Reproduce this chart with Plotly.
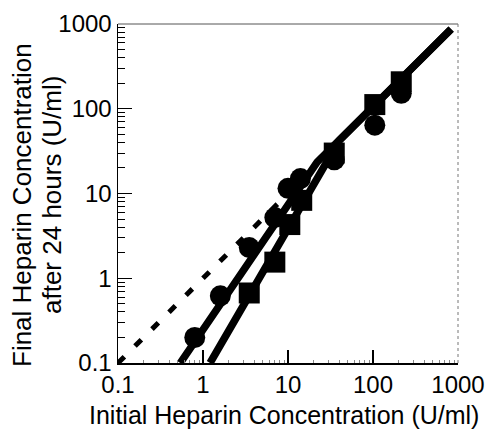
import plotly.graph_objects as go

# ---- data ----
circle_x = [0.8, 1.6, 3.5, 7.0, 10.0, 14.0, 35.0, 105.0, 215.0]
circle_y = [0.2, 0.62, 2.3, 5.2, 11.5, 15.0, 25.0, 64.0, 152.0]
square_x = [3.5, 7.0, 10.5, 14.5, 35.0, 105.0, 215.0]
square_y = [0.67, 1.55, 4.3, 8.3, 30.0, 112.0, 208.0]

circle_fit_x = [0.54, 22.0, 830.0]
circle_fit_y = [0.1, 23.5, 870.0]
square_fit_x = [1.21, 40.0, 830.0]
square_fit_y = [0.1, 42.0, 870.0]
identity_x = [0.1, 12.0]
identity_y = [0.1, 12.0]

tick_vals = [0.1, 1, 10, 100, 1000]
tick_text = ["0.1", "1", "10", "100", "1000"]

x_title = "Initial Heparin Concentration (U/ml)"
y_title_1 = "Final Heparin Concentration"
y_title_2 = "after 24 hours (U/ml)"

# ---- layout geometry ----
W, H = 489, 432
L, R, T, B = 118, 31, 24, 69
pw, ph = W - L - R, H - T - B


def px_to_paper(x, y):
    return (x - L) / pw, (H - B - y) / ph


FONT = "Liberation Sans, Arial, sans-serif"

fig = go.Figure()

fig.add_trace(go.Scatter(x=identity_x, y=identity_y, mode="lines",
                         line=dict(color="black", width=5, dash="9px,15px"),
                         hoverinfo="skip", showlegend=False))
fig.add_trace(go.Scatter(x=circle_fit_x, y=circle_fit_y, mode="lines",
                         line=dict(color="black", width=7.5),
                         hoverinfo="skip", showlegend=False))
fig.add_trace(go.Scatter(x=square_fit_x, y=square_fit_y, mode="lines",
                         line=dict(color="black", width=7.5),
                         hoverinfo="skip", showlegend=False))
fig.add_trace(go.Scatter(x=circle_x, y=circle_y, mode="markers",
                         marker=dict(symbol="circle", size=21, color="black"),
                         showlegend=False))
fig.add_trace(go.Scatter(x=square_x, y=square_y, mode="markers",
                         marker=dict(symbol="square", size=21, color="black"),
                         showlegend=False))

axis_common = dict(
    type="log", range=[-1, 3], tickvals=tick_vals, ticktext=tick_text,
    showgrid=False, zeroline=False, showline=True, linecolor="black",
    linewidth=1.5, ticks="inside", tickcolor="black", tickwidth=1.2,
    tickfont=dict(family=FONT, size=24, color="black"),
)

fig.update_xaxes(**axis_common, ticklen=13,
                 minor=dict(ticks="inside", ticklen=3, tickcolor="#888888",
                            tickwidth=1, dtick="D1", showgrid=False))
fig.update_yaxes(**axis_common, ticklen=14,
                 minor=dict(ticks="inside", ticklen=7, tickcolor="black",
                            tickwidth=1, dtick="D1", showgrid=False))

# top (solid gray) and right (dotted gray) frame lines
fig.add_shape(type="line", xref="paper", yref="paper", x0=0, x1=1, y0=1, y1=1,
              line=dict(color="#555555", width=1))
fig.add_shape(type="line", xref="paper", yref="paper", x0=1, x1=1, y0=0, y1=1,
              line=dict(color="#777777", width=1, dash="dot"))

ax, ay = px_to_paper(284, 415)
fig.add_annotation(text=x_title, x=ax, y=ay, xref="paper", yref="paper",
                   xanchor="center", yanchor="middle", showarrow=False,
                   font=dict(family=FONT, size=25, color="black"))
a1x, a1y = px_to_paper(22, 205)
fig.add_annotation(text=y_title_1, x=a1x, y=a1y, xref="paper", yref="paper",
                   xanchor="center", yanchor="middle", showarrow=False,
                   textangle=-90, font=dict(family=FONT, size=26, color="black"))
a2x, a2y = px_to_paper(52, 195)
fig.add_annotation(text=y_title_2, x=a2x, y=a2y, xref="paper", yref="paper",
                   xanchor="center", yanchor="middle", showarrow=False,
                   textangle=-90, font=dict(family=FONT, size=26, color="black"))

fig.update_layout(
    width=W, height=H, margin=dict(l=L, r=R, t=T, b=B, autoexpand=False),
    paper_bgcolor="white", plot_bgcolor="white",
    font=dict(family=FONT, color="black"),
)

fig.write_html(
    "out.html",
    config={"displayModeBar": False, "staticPlot": True},
    post_script="document.body.style.margin='0';document.body.style.padding='0';"
                "document.body.style.overflow='hidden';",
)
